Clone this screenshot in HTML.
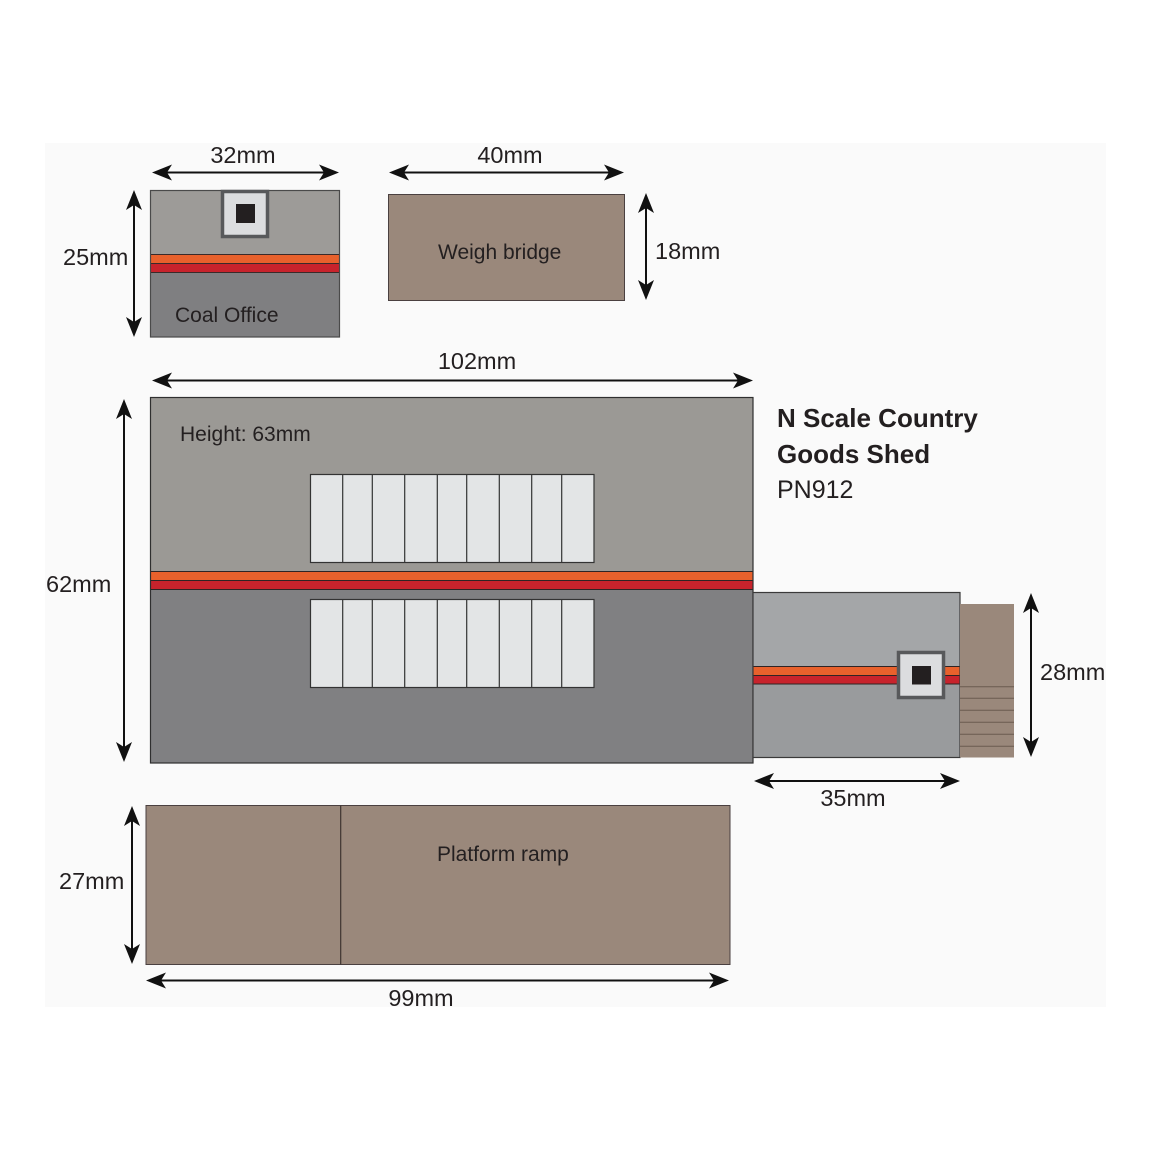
<!DOCTYPE html>
<html><head><meta charset="utf-8">
<style>
html,body{margin:0;padding:0;background:#fff;}
svg{display:block;}
text{font-family:"Liberation Sans",sans-serif;fill:#231f20;}
</style></head>
<body>
<svg width="1153" height="1153" viewBox="0 0 1153 1153" xmlns="http://www.w3.org/2000/svg">
<rect x="0" y="0" width="1153" height="1153" fill="#ffffff"/>
<rect x="45" y="143" width="1061" height="864" fill="#fafafa"/>

<!-- Coal office -->
<rect x="150.5" y="190.5" width="189" height="64" fill="#9d9b98"/>
<rect x="150.5" y="272.5" width="189" height="64.5" fill="#7f7f81"/>
<rect x="150.5" y="254.5" width="189" height="9" fill="#e8612c" stroke="#3a2a2a" stroke-width="1"/>
<rect x="150.5" y="263.5" width="189" height="9" fill="#c8232c" stroke="#3a2a2a" stroke-width="1"/>
<rect x="150.5" y="190.5" width="189" height="146.5" fill="none" stroke="#4a4a4a" stroke-width="1.2"/>
<rect x="222.5" y="191.5" width="45" height="45" fill="#dcdddf" stroke="#58595b" stroke-width="3.5"/>
<rect x="236" y="204" width="19" height="19" fill="#231f20"/>

<!-- Weigh bridge -->
<rect x="388.5" y="194.5" width="236" height="106" fill="#9a887b" stroke="#4a4040" stroke-width="1"/>

<!-- Main building -->
<rect x="150.5" y="397.5" width="602.5" height="174" fill="#9b9995"/>
<rect x="150.5" y="589.5" width="602.5" height="173.5" fill="#808082"/>
<rect x="150.5" y="571.5" width="602.5" height="9" fill="#e8612c" stroke="#2f2424" stroke-width="1"/>
<rect x="150.5" y="580.5" width="602.5" height="9" fill="#c8232c" stroke="#2f2424" stroke-width="1"/>
<rect x="150.5" y="397.5" width="602.5" height="365.5" fill="none" stroke="#2f2f2f" stroke-width="1.2"/>

<!-- top windows -->
<g fill="#e3e5e6" stroke="#333" stroke-width="1.2">
<rect x="310.5" y="474.5" width="283.5" height="88"/>
<rect x="310.5" y="599.5" width="283.5" height="88"/>
</g>
<g stroke="#333" stroke-width="1.2">
<line x1="342.7" y1="474.5" x2="342.7" y2="562.5"/>
<line x1="372.3" y1="474.5" x2="372.3" y2="562.5"/>
<line x1="404.7" y1="474.5" x2="404.7" y2="562.5"/>
<line x1="437.3" y1="474.5" x2="437.3" y2="562.5"/>
<line x1="466.7" y1="474.5" x2="466.7" y2="562.5"/>
<line x1="499.3" y1="474.5" x2="499.3" y2="562.5"/>
<line x1="531.7" y1="474.5" x2="531.7" y2="562.5"/>
<line x1="561.7" y1="474.5" x2="561.7" y2="562.5"/>
<line x1="342.7" y1="599.5" x2="342.7" y2="687.5"/>
<line x1="372.3" y1="599.5" x2="372.3" y2="687.5"/>
<line x1="404.7" y1="599.5" x2="404.7" y2="687.5"/>
<line x1="437.3" y1="599.5" x2="437.3" y2="687.5"/>
<line x1="466.7" y1="599.5" x2="466.7" y2="687.5"/>
<line x1="499.3" y1="599.5" x2="499.3" y2="687.5"/>
<line x1="531.7" y1="599.5" x2="531.7" y2="687.5"/>
<line x1="561.7" y1="599.5" x2="561.7" y2="687.5"/>
</g>

<!-- Annex -->
<rect x="753" y="592.5" width="207" height="74" fill="#a4a6a8"/>
<rect x="753" y="684" width="207" height="73.5" fill="#999b9d"/>
<rect x="753" y="666.5" width="207" height="9" fill="#e8612c" stroke="#2f2424" stroke-width="1"/>
<rect x="753" y="675.5" width="207" height="8.5" fill="#c8232c" stroke="#2f2424" stroke-width="1"/>
<rect x="753" y="592.5" width="207" height="165" fill="none" stroke="#3a3a3a" stroke-width="1.2"/>
<rect x="898.5" y="652.5" width="45" height="45" fill="#dcdddf" stroke="#58595b" stroke-width="3.5"/>
<rect x="912" y="666" width="19" height="18.5" fill="#231f20"/>

<!-- Steps -->
<rect x="960" y="604" width="54" height="153.5" fill="#9a887b"/>
<g stroke="#6b5b50" stroke-width="1">
<line x1="960" y1="686.7" x2="1014" y2="686.7"/>
<line x1="960" y1="698.3" x2="1014" y2="698.3"/>
<line x1="960" y1="710.3" x2="1014" y2="710.3"/>
<line x1="960" y1="722.3" x2="1014" y2="722.3"/>
<line x1="960" y1="734.3" x2="1014" y2="734.3"/>
<line x1="960" y1="746.3" x2="1014" y2="746.3"/>
</g>

<!-- Platform ramp -->
<rect x="146" y="805.5" width="584" height="159" fill="#9a887b" stroke="#4a4040" stroke-width="1"/>
<line x1="340.7" y1="805.5" x2="340.7" y2="964.5" stroke="#3e3430" stroke-width="1.2"/>

<!-- Dimension arrows -->
<g stroke="#111" stroke-width="2" fill="none">
<line x1="166" y1="172.5" x2="325" y2="172.5"/>
<line x1="403" y1="172.5" x2="610" y2="172.5"/>
<line x1="134" y1="204" x2="134" y2="323"/>
<line x1="646" y1="207" x2="646" y2="286"/>
<line x1="166" y1="380.5" x2="739" y2="380.5"/>
<line x1="124" y1="413" x2="124" y2="748"/>
<line x1="1031" y1="607" x2="1031" y2="743"/>
<line x1="768" y1="781" x2="946" y2="781"/>
<line x1="132" y1="820" x2="132" y2="950"/>
<line x1="160" y1="980.5" x2="715" y2="980.5"/>
</g>
<g fill="#111">
<!-- 32mm -->
<path d="M152 172.5 L172 164.5 L167 172.5 L172 180.5 Z"/>
<path d="M339 172.5 L319 164.5 L324 172.5 L319 180.5 Z"/>
<!-- 40mm -->
<path d="M389 172.5 L409 164.5 L404 172.5 L409 180.5 Z"/>
<path d="M624 172.5 L604 164.5 L609 172.5 L604 180.5 Z"/>
<!-- 25mm -->
<path d="M134 190 L126 210 L134 205 L142 210 Z"/>
<path d="M134 337 L126 317 L134 322 L142 317 Z"/>
<!-- 18mm -->
<path d="M646 193 L638 213 L646 208 L654 213 Z"/>
<path d="M646 300 L638 280 L646 285 L654 280 Z"/>
<!-- 102mm -->
<path d="M152 380.5 L172 372.5 L167 380.5 L172 388.5 Z"/>
<path d="M753 380.5 L733 372.5 L738 380.5 L733 388.5 Z"/>
<!-- 62mm -->
<path d="M124 399 L116 419 L124 414 L132 419 Z"/>
<path d="M124 762 L116 742 L124 747 L132 742 Z"/>
<!-- 28mm -->
<path d="M1031 593 L1023 613 L1031 608 L1039 613 Z"/>
<path d="M1031 757 L1023 737 L1031 742 L1039 737 Z"/>
<!-- 35mm -->
<path d="M754 781 L774 773 L769 781 L774 789 Z"/>
<path d="M960 781 L940 773 L945 781 L940 789 Z"/>
<!-- 27mm -->
<path d="M132 806 L124 826 L132 821 L140 826 Z"/>
<path d="M132 964 L124 944 L132 949 L140 944 Z"/>
<!-- 99mm -->
<path d="M146 980.5 L166 972.5 L161 980.5 L166 988.5 Z"/>
<path d="M729 980.5 L709 972.5 L714 980.5 L709 988.5 Z"/>
</g>

<!-- Labels -->
<g font-size="23.5">
<text x="243" y="163" text-anchor="middle">32mm</text>
<text x="510" y="163" text-anchor="middle">40mm</text>
<text x="63" y="265">25mm</text>
<text x="655" y="259">18mm</text>
<text x="477" y="369" text-anchor="middle">102mm</text>
<text x="46" y="592">62mm</text>
<text x="1040" y="680">28mm</text>
<text x="853" y="806" text-anchor="middle">35mm</text>
<text x="59" y="889">27mm</text>
<text x="421" y="1006" text-anchor="middle">99mm</text>
</g>
<g font-size="21">
<text x="175" y="322">Coal Office</text>
<text x="438" y="259">Weigh bridge</text>
<text x="180" y="441">Height: 63mm</text>
<text x="437" y="861">Platform ramp</text>
</g>
<text x="777" y="427" font-size="26" font-weight="bold">N Scale Country</text>
<text x="777" y="463" font-size="26" font-weight="bold">Goods Shed</text>
<text x="777" y="498" font-size="25">PN912</text>
</svg>
</body></html>
